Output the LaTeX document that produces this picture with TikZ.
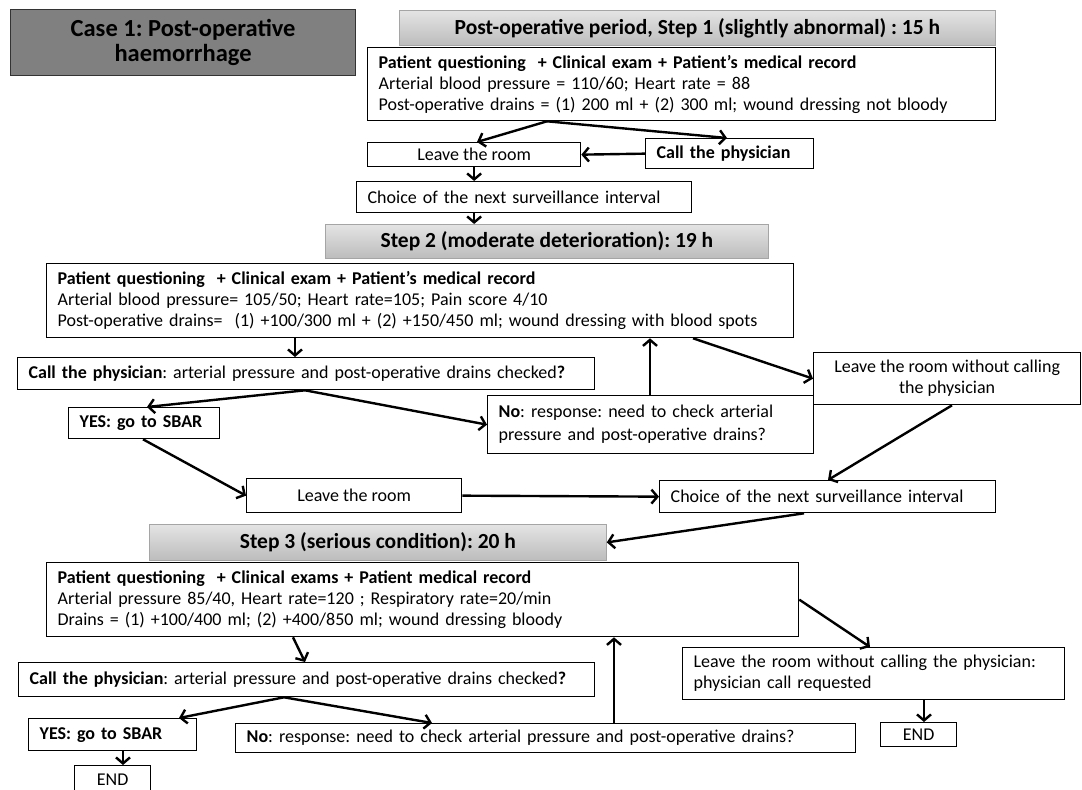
\documentclass[tikz,border=0pt]{standalone}
\usepackage{fontspec}
\setmainfont{Carlito}
\usetikzlibrary{arrows.meta}
\frenchspacing

\definecolor{casegray}{RGB}{128,128,128}
\definecolor{headtop}{RGB}{228,228,228}
\definecolor{headbot}{RGB}{188,188,188}
\definecolor{headline}{RGB}{165,165,165}
\newcommand{\bodyfont}{\fontsize{18}{21}\selectfont}

\begin{document}
\begin{tikzpicture}[x=1pt, y=-1pt,
  box/.style={draw, fill=white, line width=1.3pt, anchor=north west, inner xsep=11pt, inner ysep=0pt, align=left, font=\bodyfont},
  midbox/.style={box, align=center},
  header/.style={draw=headline, line width=0.8pt, top color=headtop, bottom color=headbot, anchor=north west, inner sep=0pt, font=\fontsize{21.5}{25}\selectfont\bfseries},
  arr/.style={line width=2.4pt, -{Straight Barb[length=6pt, width=14pt]}}]
\useasboundingbox (0,0) rectangle (1082,790);

% title
\node[draw=black!80, line width=1.2pt, fill=casegray, anchor=north west, minimum width=345pt, minimum height=66pt, align=center, font=\fontsize{24.5}{25}\selectfont\bfseries] (case) at (10,9) {Case 1: Post-operative\\haemorrhage};

% step 1
\node[header, minimum width=596pt, minimum height=35pt] (h1) at (399,10) {Post-operative period, Step 1 (slightly abnormal) : 15 h};
\node[box, text width=606pt, minimum height=73pt] (s1) at (367,47) {\textbf{Patient questioning~ + Clinical exam + Patient’s medical record}\\Arterial blood pressure = 110/60; Heart rate = 88\\Post-operative drains = (1) 200 ml + (2) 300 ml; wound dressing not bloody};
\node[midbox, minimum width=213pt, minimum height=24pt] (leave1) at (367,142) {Leave the room};
\node[box, text width=146pt, minimum height=30pt] (call1) at (645,138) {\textbf{Call the physician}};
\node[box, text width=313pt, minimum height=31pt] (choice1) at (356,181) {Choice of the next surveillance interval};

% step 2
\node[header, minimum width=443pt, minimum height=34pt] (h2) at (325,224) {Step 2 (moderate deterioration): 19 h};
\node[box, text width=725pt, minimum height=74pt] (s2) at (46,263) {\textbf{Patient questioning~ + Clinical exam + Patient’s medical record}\\Arterial blood pressure= 105/50; Heart rate=105; Pain score 4/10\\Post-operative drains=~ (1) +100/300 ml + (2) +150/450 ml; wound dressing with blood spots};
\node[box, text width=555pt, minimum height=32pt] (call2) at (17,357) {\textbf{Call the physician}: arterial pressure and post-operative drains checked\textbf{?}};
\node[box, text width=129pt, minimum height=31pt] (yes2) at (68,407) {\textbf{YES: go to SBAR}};
\node[box, text width=304pt, minimum height=58pt, font=\fontsize{18}{23}\selectfont] (no2) at (487,395) {\textbf{No}: response: need to check arterial\\pressure and post-operative drains?};
\node[midbox, minimum width=267pt, minimum height=52pt] (lw2) at (813,352) {Leave the room without calling\\the physician};
\node[midbox, minimum width=215pt, minimum height=34pt] (leave2) at (246,478) {Leave the room};
\node[box, text width=314pt, minimum height=32pt] (choice2) at (659,480) {Choice of the next surveillance interval};

% step 3
\node[header, minimum width=457pt, minimum height=36pt] (h3) at (149,524) {Step 3 (serious condition): 20 h};
\node[box, text width=730pt, minimum height=74pt] (s3) at (46,562) {\textbf{Patient questioning~ + Clinical exams + Patient medical record}\\Arterial pressure 85/40, Heart rate=120 ; Respiratory rate=20/min\\Drains = (1) +100/400 ml; (2) +400/850 ml; wound dressing bloody};
\node[box, text width=554pt, minimum height=34pt] (call3) at (18,662) {\textbf{Call the physician}: arterial pressure and post-operative drains checked\textbf{?}};
\node[box, text width=146pt, minimum height=32pt] (yes3) at (28,718) {\textbf{YES: go to SBAR}};
\node[midbox, minimum width=76pt, minimum height=29pt] (end1) at (74,765) {END};
\node[box, text width=598pt, minimum height=29pt] (no3) at (235,723) {\textbf{No}: response: need to check arterial pressure and post-operative drains?};
\node[box, text width=360pt, minimum height=52pt] (lw3) at (682,647) {Leave the room without calling the physician:\\physician call requested};
\node[midbox, minimum width=76pt, minimum height=24pt] (end2) at (880,722) {END};

% arrows step 1
\draw[arr] ([xshift=180pt]s1.south west) -- ([xshift=110pt]leave1.north west);
\draw[arr] ([xshift=180pt]s1.south west) -- ([xshift=82pt]call1.north west);
\draw[arr] (call1.west) -- (leave1.east);
\draw[arr] (leave1.south) -- (choice1.north -| leave1.south);
\draw[arr] (choice1.south -| leave1.south) -- (h2.north -| leave1.south);

% arrows step 2
\draw[arr] ([xshift=249pt]s2.south west) -- ([xshift=278pt]call2.north west);
\draw[arr] ([xshift=288pt]call2.south west) -- ([xshift=79pt]yes2.north west);
\draw[arr] ([xshift=288pt]call2.south west) -- (no2.west);
\draw[arr] ([xshift=163pt]no2.north west) -- ([xshift=604pt]s2.south west);
\draw[arr] ([xshift=647pt]s2.south west) -- (lw2.west);
\draw[arr] ([xshift=75pt]yes2.south west) -- (leave2.west);
\draw[arr] ([xshift=139pt]lw2.south west) -- ([xshift=169pt]choice2.north west);
\draw[arr] (leave2.east) -- (choice2.west);
\draw[arr] ([xshift=145pt]choice2.south west) -- (h3.east);

% arrows step 3
\draw[arr] ([xshift=247pt]s3.south west) -- ([xshift=287pt]call3.north west);
\draw[arr] (s3.east) -- ([xshift=188pt]lw3.north west);
\draw[arr] ([xshift=266pt]call3.south west) -- ([xshift=151pt]yes3.north west);
\draw[arr] ([xshift=266pt]call3.south west) -- ([xshift=197pt]no3.north west);
\draw[arr] ([xshift=379pt]no3.north west) -- ([xshift=568pt]s3.south west);
\draw[arr] ([xshift=95pt]yes3.south west) -- ([xshift=49pt]end1.north west);
\draw[arr] ([xshift=242pt]lw3.south west) -- ([xshift=44pt]end2.north west);
\end{tikzpicture}
\end{document}
